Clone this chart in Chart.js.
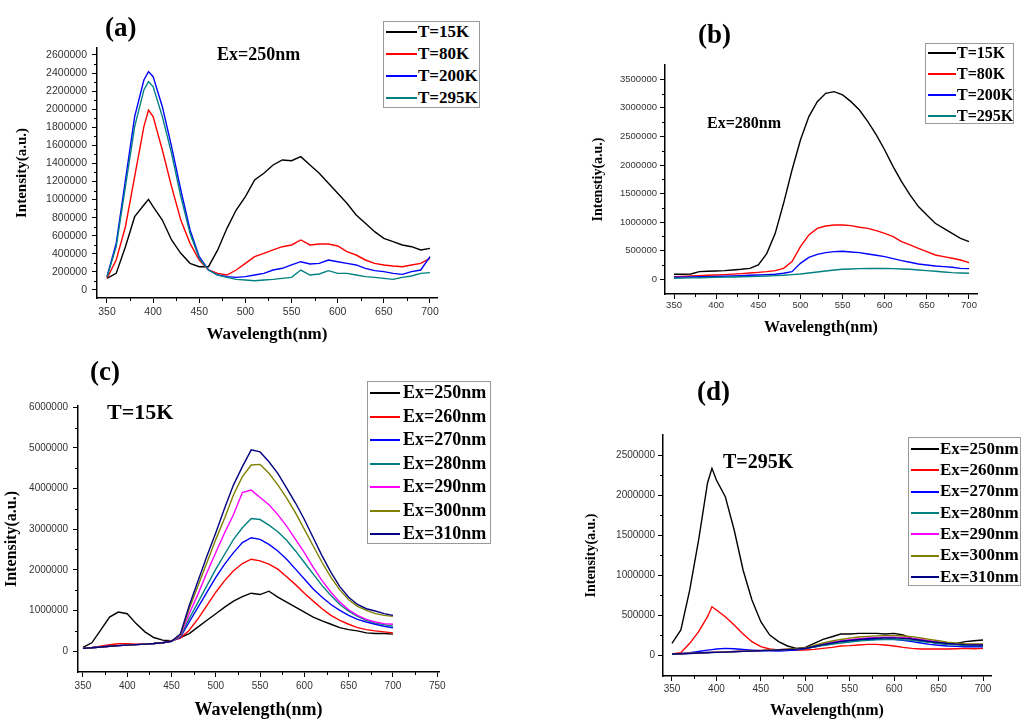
<!DOCTYPE html>
<html>
<head>
<meta charset="utf-8">
<script src="https://cdn.jsdelivr.net/npm/chart.js@4.4.1/dist/chart.umd.min.js"></script>
<style>
  html, body { margin: 0; padding: 0; background: #fff; }
  body { position: relative; width: 1021px; height: 720px; overflow: hidden; font-family: "Liberation Serif", "Times New Roman", serif; }
  canvas { position: absolute; }
  .txt { position: absolute; font-weight: bold; white-space: nowrap; line-height: 1; color: #000; }
  .legend { position: absolute; border: 1px solid #9a9a9a; background: #fff; box-sizing: border-box; }
  .legend .row { position: absolute; white-space: nowrap; font-weight: bold; color: #000; }
  .legend .swatch { position: absolute; height: 2px; }
</style>
</head>
<body>
<canvas id="ca"></canvas>
<canvas id="cb"></canvas>
<canvas id="cc"></canvas>
<canvas id="cd"></canvas>

<div class="txt" style="left:105px;top:14px;font-size:27px">(a)</div>
<div class="txt" style="left:698px;top:21px;font-size:27px">(b)</div>
<div class="txt" style="left:90px;top:358px;font-size:27px">(c)</div>
<div class="txt" style="left:697px;top:378px;font-size:27px">(d)</div>
<div class="txt" style="left:217px;top:45px;font-size:18px">Ex=250nm</div>
<div class="txt" style="left:707px;top:115px;font-size:16px">Ex=280nm</div>
<div class="txt" style="left:107px;top:401px;font-size:22px">T=15K</div>
<div class="txt" style="left:723px;top:451px;font-size:20px">T=295K</div>

<script>
// intensities are in thousands (a.u. / 1000); tick labels print the full number
const namesT = ['T=15K', 'T=80K', 'T=200K', 'T=295K'];
const colorsT = ['#000000', '#ff0000', '#0000ff', '#008080'];
const namesEx = ['Ex=250nm', 'Ex=260nm', 'Ex=270nm', 'Ex=280nm', 'Ex=290nm', 'Ex=300nm', 'Ex=310nm'];
const colorsEx = ['#000000', '#ff0000', '#0000ff', '#008080', '#ff00ff', '#808000', '#000080'];

const xTicks = [350, 400, 450, 500, 550, 600, 650, 700];
const xTicksC = [350, 400, 450, 500, 550, 600, 650, 700, 750];
const yTicksA = [0, 200, 400, 600, 800, 1000, 1200, 1400, 1600, 1800, 2000, 2200, 2400, 2600];
const yTicksB = [0, 500, 1000, 1500, 2000, 2500, 3000, 3500];
const yTicksC = [0, 1000, 2000, 3000, 4000, 5000, 6000];
const yTicksD = [0, 500, 1000, 1500, 2000, 2500];

// (a) Ex=250nm
const wlA = [350, 360, 370, 380, 390, 395, 400, 410, 420, 430, 440, 450, 460, 470, 480, 490, 500, 510, 520, 530, 540,
  550, 560, 570, 580, 590, 600, 610, 620, 630, 640, 650, 660, 670, 680, 690, 700];
const aT15 = [129, 184, 479, 811, 940, 1003, 922, 774, 553, 406, 295, 258, 258, 443, 682, 885, 1033, 1217, 1291, 1383, 1438,
  1430, 1475, 1383, 1291, 1180, 1070, 959, 830, 738, 645, 572, 535, 498, 479, 443, 461];
const aT80 = [129, 332, 700, 1254, 1807, 1991, 1918, 1549, 1143, 774, 516, 332, 221, 184, 166, 221, 295, 369, 406, 443, 479,
  498, 553, 498, 509, 509, 487, 424, 387, 332, 295, 277, 266, 258, 277, 295, 350];
const aT200 = [148, 516, 1217, 1918, 2323, 2416, 2360, 2028, 1586, 1106, 664, 369, 221, 166, 148, 140, 148, 166, 184, 221, 240,
  277, 313, 288, 295, 332, 313, 295, 277, 240, 214, 203, 184, 173, 203, 221, 369];
const aT295 = [140, 479, 1143, 1807, 2213, 2305, 2250, 1918, 1512, 1033, 627, 350, 221, 166, 140, 118, 111, 103, 111, 118, 129,
  140, 221, 166, 177, 214, 184, 184, 166, 148, 140, 129, 118, 140, 155, 184, 192];

// (b) Ex=280nm
const wlB = [350, 360, 370, 380, 390, 400, 410, 420, 430, 440, 450, 460, 470, 480, 490, 500, 510, 520, 530, 540,
  550, 560, 570, 580, 590, 600, 610, 620, 630, 640, 650, 660, 670, 680, 690, 700];
const bT15 = [88, 88, 93, 134, 140, 146, 152, 163, 175, 192, 251, 450, 800, 1330, 1913, 2438, 2847, 3109, 3255, 3284,
  3226, 3109, 2963, 2759, 2526, 2263, 1972, 1709, 1476, 1272, 1126, 980, 892, 805, 717, 659];
const bT80 = [47, 52, 58, 64, 70, 76, 82, 90, 99, 110, 122, 134, 152, 192, 309, 572, 776, 892, 933, 951,
  951, 939, 910, 892, 852, 805, 747, 659, 601, 543, 484, 426, 397, 368, 338, 292];
const bT200 = [35, 38, 41, 44, 47, 50, 54, 58, 64, 70, 76, 82, 88, 105, 134, 280, 385, 437, 467, 484,
  490, 478, 467, 443, 420, 397, 362, 327, 298, 268, 251, 233, 222, 210, 192, 187];
const bT295 = [18, 21, 25, 28, 32, 35, 38, 41, 44, 47, 52, 58, 64, 70, 82, 93, 110, 128, 146, 163,
  175, 181, 187, 190, 192, 190, 187, 181, 175, 163, 152, 140, 128, 117, 111, 105];

// (c) T=15K
const wlC = [350, 360, 370, 380, 390, 400, 410, 420, 430, 440, 450, 460, 470, 480, 490, 500, 510, 520, 530, 540,
  550, 560, 570, 580, 590, 600, 610, 620, 630, 640, 650, 660, 670, 680, 690, 700];
const c250 = [89, 203, 512, 837, 959, 919, 675, 472, 333, 268, 252, 333, 431, 593, 756, 919, 1081, 1228, 1341, 1423,
  1390, 1472, 1325, 1203, 1081, 959, 837, 740, 659, 577, 528, 496, 447, 431, 431, 415];
const c260 = [65, 89, 122, 154, 179, 179, 171, 171, 187, 211, 252, 320, 512, 797, 1122, 1447, 1732, 1976, 2154, 2260,
  2219, 2138, 2016, 1829, 1634, 1423, 1228, 1041, 878, 756, 659, 577, 528, 496, 472, 447];
const c270 = [65, 80, 100, 118, 132, 145, 158, 170, 185, 205, 245, 340, 715, 1081, 1447, 1813, 2138, 2423, 2667, 2789,
  2748, 2626, 2463, 2260, 2016, 1772, 1528, 1325, 1146, 1000, 878, 780, 715, 659, 610, 569];
const c280 = [65, 80, 100, 118, 132, 145, 158, 170, 185, 205, 240, 360, 797, 1203, 1610, 2016, 2382, 2748, 3032, 3260,
  3236, 3098, 2935, 2724, 2463, 2179, 1894, 1610, 1366, 1146, 984, 854, 756, 691, 650, 610];
const c290 = [65, 80, 100, 118, 132, 145, 158, 170, 185, 205, 240, 380, 919, 1407, 1935, 2423, 2911, 3358, 3900, 3960,
  3780, 3602, 3358, 3073, 2748, 2423, 2057, 1732, 1447, 1203, 1016, 878, 780, 715, 675, 659];
const c300 = [65, 80, 100, 118, 132, 145, 158, 170, 185, 205, 240, 400, 1041, 1610, 2179, 2748, 3276, 3845, 4293, 4577,
  4593, 4374, 4089, 3764, 3398, 2992, 2585, 2179, 1813, 1504, 1260, 1098, 1000, 919, 878, 854];
const c310 = [65, 80, 100, 118, 132, 145, 158, 170, 185, 205, 240, 420, 1122, 1732, 2341, 2911, 3520, 4089, 4537, 4950,
  4900, 4658, 4374, 4008, 3642, 3236, 2789, 2341, 1935, 1585, 1325, 1146, 1041, 984, 919, 878];

// (d) T=295K
const wlD = [350, 360, 370, 380, 390, 395, 400, 410, 420, 430, 440, 450, 460, 470, 480, 490, 500, 510, 520, 530, 540,
  550, 560, 570, 580, 590, 600, 610, 620, 630, 640, 650, 660, 670, 680, 690, 700];
const d250 = [146, 313, 813, 1438, 2150, 2333, 2188, 1979, 1563, 1063, 688, 417, 250, 167, 113, 83, 96, 146, 196, 229, 263,
  263, 271, 271, 271, 263, 271, 250, 208, 179, 163, 146, 138, 146, 167, 179, 188];
const d260 = [13, 29, 146, 292, 479, 604, 563, 479, 375, 263, 167, 104, 75, 63, 63, 63, 63, 71, 83, 96, 113,
  117, 125, 133, 133, 125, 113, 96, 83, 75, 75, 75, 75, 79, 83, 79, 83];
const d270 = [13, 18, 29, 45, 62, 68, 75, 83, 78, 70, 62, 55, 52, 50, 55, 63, 83, 100, 125, 145, 167,
  178, 188, 192, 196, 196, 196, 185, 167, 150, 133, 122, 113, 108, 104, 104, 104];
const d280 = [13, 17, 22, 27, 31, 33, 35, 39, 43, 47, 51, 55, 59, 63, 68, 74, 80, 100, 120, 135, 150,
  163, 175, 183, 190, 193, 195, 190, 185, 172, 160, 147, 135, 127, 120, 117, 115];
const d290 = [13, 17, 22, 27, 31, 33, 35, 39, 44, 48, 53, 57, 62, 67, 73, 79, 85, 112, 140, 160, 180,
  193, 205, 213, 220, 222, 222, 218, 210, 195, 180, 165, 150, 142, 135, 132, 130];
const d300 = [13, 17, 22, 27, 31, 33, 35, 40, 45, 49, 54, 58, 63, 68, 75, 81, 88, 120, 150, 175, 195,
  212, 225, 233, 240, 243, 245, 238, 230, 213, 195, 178, 160, 150, 140, 140, 140];
const d310 = [13, 16, 20, 25, 29, 31, 33, 37, 41, 46, 50, 54, 58, 63, 68, 74, 82, 106, 130, 150, 170,
  183, 195, 203, 210, 213, 215, 208, 200, 185, 170, 157, 145, 137, 130, 127, 125];

// short outward minor ticks, Origin style
const minorTicks = {
  id: 'minorTicks',
  afterDraw(chart, args, opts) {
    const ctx = chart.ctx, xs = chart.scales.x, ys = chart.scales.y;
    ctx.save();
    ctx.strokeStyle = '#000';
    ctx.lineWidth = 1;
    ctx.beginPath();
    for (let v = opts.x0; v < xs.max; v += opts.xStep) {
      const px = Math.round(xs.getPixelForValue(v)) + 0.5;
      ctx.moveTo(px, xs.top);
      ctx.lineTo(px, xs.top + 3);
    }
    for (let v = opts.y0; v < ys.max; v += opts.yStep) {
      const py = Math.round(ys.getPixelForValue(v)) + 0.5;
      ctx.moveTo(ys.right, py);
      ctx.lineTo(ys.right - 3, py);
    }
    ctx.stroke();
    ctx.restore();
  }
};

function drawPanel(p) {
  const cv = document.getElementById(p.id);
  cv.width = p.box.w;
  cv.height = p.box.h;
  Object.assign(cv.style, { left: p.box.x + 'px', top: p.box.y + 'px', width: p.box.w + 'px', height: p.box.h + 'px' });

  const n = p.series.length;
  const datasets = p.series.map((s, i) => ({
    label: p.names[i],
    data: p.wl.map((w, j) => ({ x: w, y: s[j] })),
    borderColor: p.colors[i],
    borderWidth: 1.4,
    pointRadius: 0,
    fill: false,
    tension: 0,
    order: n - i
  }));

  new Chart(cv, {
    type: 'line',
    data: { datasets },
    plugins: [minorTicks],
    options: {
      responsive: false,
      animation: false,
      events: [],
      layout: { padding: { left: 0, bottom: 0, top: p.area.t - p.box.y, right: p.box.x + p.box.w - p.area.r } },
      plugins: {
        legend: { display: false },
        tooltip: { enabled: false },
        minorTicks: p.minor
      },
      scales: {
        x: {
          type: 'linear',
          min: p.xMin,
          max: p.xMax,
          afterBuildTicks: s => { s.ticks = p.xTicks.map(v => ({ value: v })); },
          afterFit: s => { s.height = p.box.y + p.box.h - p.area.b; },
          grid: { display: true, drawOnChartArea: false, drawTicks: true, tickLength: 5, tickColor: '#000' },
          border: { display: true, color: '#000', width: 1.5 },
          ticks: {
            color: '#333', autoSkip: false, maxRotation: 0, padding: p.xPad,
            font: { family: 'Liberation Sans', size: p.tickFont }
          },
          title: {
            display: true, text: 'Wavelength(nm)', color: '#000',
            font: { family: 'Liberation Serif', size: p.xTitleSize, weight: 'bold' },
            padding: { top: 0, bottom: p.xTitlePad }
          }
        },
        y: {
          type: 'linear',
          min: p.yMin,
          max: p.yMax,
          afterBuildTicks: s => { s.ticks = p.yTicks.map(v => ({ value: v })); },
          afterFit: s => { s.width = p.area.l - p.box.x; },
          grid: { display: true, drawOnChartArea: false, drawTicks: true, tickLength: 5, tickColor: '#000' },
          border: { display: true, color: '#000', width: 1.5 },
          ticks: {
            color: '#333', autoSkip: false, padding: p.yPad,
            font: { family: 'Liberation Sans', size: p.tickFont },
            callback: v => String(Math.round(v * 1000))
          },
          title: {
            display: true, text: p.yTitle, color: '#000',
            font: { family: 'Liberation Serif', size: p.yTitleSize, weight: 'bold' },
            padding: { top: p.yTitlePad, bottom: 0 }
          }
        }
      }
    }
  });
}

function buildLegend(g) {
  const box = document.createElement('div');
  box.className = 'legend';
  Object.assign(box.style, { left: g.left + 'px', top: g.top + 'px', width: g.width + 'px', height: g.height + 'px' });
  g.names.forEach((name, i) => {
    const cy = g.firstRow + i * g.rowStep - g.top - 1;
    const sw = document.createElement('div');
    sw.className = 'swatch';
    Object.assign(sw.style, { left: g.lineX + 'px', width: g.lineW + 'px', top: (cy - 1) + 'px', background: g.colors[i] });
    const t = document.createElement('div');
    t.className = 'row';
    t.textContent = name;
    Object.assign(t.style, {
      left: g.textX + 'px', top: (cy - g.font * 0.6) + 'px',
      fontSize: g.font + 'px', lineHeight: (g.font * 1.2) + 'px'
    });
    box.append(sw, t);
  });
  document.body.appendChild(box);
}

drawPanel({
  id: 'ca', box: { x: 0, y: 0, w: 510, h: 352 }, area: { l: 97, t: 48, r: 437, b: 298 },
  xMin: 339.2, xMax: 707.6, yMin: -88.5, yMax: 2677,
  xTicks: xTicks, yTicks: yTicksA, minor: { x0: 375, xStep: 50, y0: 100, yStep: 200 },
  wl: wlA, series: [aT15, aT80, aT200, aT295], names: namesT, colors: colorsT,
  tickFont: 10.5, xPad: 3, yPad: 5,
  yTitle: 'Intensity(a.u.)', yTitleSize: 15, yTitlePad: 13, xTitleSize: 17, xTitlePad: 7
});
drawPanel({
  id: 'cb', box: { x: 580, y: 0, w: 441, h: 352 }, area: { l: 665, t: 65, r: 977, b: 294 },
  xMin: 339.3, xMax: 709.5, yMin: -257, yMax: 3750,
  xTicks: xTicks, yTicks: yTicksB, minor: { x0: 375, xStep: 50, y0: 250, yStep: 500 },
  wl: wlB, series: [bT15, bT80, bT200, bT295], names: namesT, colors: colorsT,
  tickFont: 9.5, xPad: 1, yPad: 3,
  yTitle: 'Intenstiy(a.u.)', yTitleSize: 14, yTitlePad: 10, xTitleSize: 16, xTitlePad: 15
});
drawPanel({
  id: 'cc', box: { x: 0, y: 355, w: 520, h: 368 }, area: { l: 78, t: 406, r: 439, b: 672 },
  xMin: 344.4, xMax: 752, yMin: -516, yMax: 6030,
  xTicks: xTicksC, yTicks: yTicksC, minor: { x0: 375, xStep: 50, y0: 500, yStep: 1000 },
  wl: wlC, series: [c250, c260, c270, c280, c290, c300, c310], names: namesEx, colors: colorsEx,
  tickFont: 10, xPad: 3, yPad: 5,
  yTitle: 'Intensity(a.u.)', yTitleSize: 16, yTitlePad: 2, xTitleSize: 18, xTitlePad: 2
});
drawPanel({
  id: 'cd', box: { x: 580, y: 355, w: 441, h: 365 }, area: { l: 663, t: 435, r: 991, b: 676 },
  xMin: 339.9, xMax: 709, yMin: -262, yMax: 2750,
  xTicks: xTicks, yTicks: yTicksD, minor: { x0: 375, xStep: 50, y0: 250, yStep: 500 },
  wl: wlD, series: [d250, d260, d270, d280, d290, d300, d310], names: namesEx, colors: colorsEx,
  tickFont: 10, xPad: 2, yPad: 3,
  yTitle: 'Intensity(a.u.)', yTitleSize: 14, yTitlePad: 3, xTitleSize: 16, xTitlePad: 0
});

buildLegend({ left: 383, top: 21, width: 97, height: 87, firstRow: 32, rowStep: 22, lineX: 2, lineW: 31, textX: 34, font: 17, names: namesT, colors: colorsT });
buildLegend({ left: 925, top: 43, width: 89, height: 81, firstRow: 53, rowStep: 21, lineX: 2, lineW: 28, textX: 31, font: 16, names: namesT, colors: colorsT });
buildLegend({ left: 367, top: 381, width: 124, height: 163, firstRow: 393, rowStep: 23.5, lineX: 2, lineW: 30, textX: 35, font: 18, names: namesEx, colors: colorsEx });
buildLegend({ left: 908, top: 437, width: 113, height: 149, firstRow: 449, rowStep: 21.3, lineX: 2, lineW: 28, textX: 31, font: 17, names: namesEx, colors: colorsEx });
</script>
</body>
</html>
